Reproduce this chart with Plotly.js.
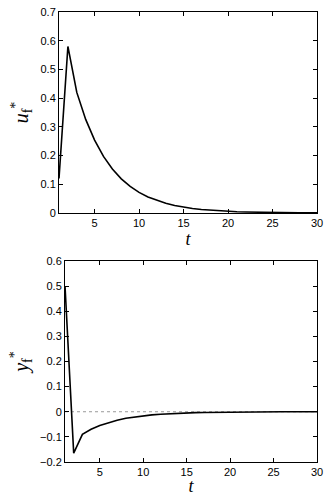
<!DOCTYPE html>
<html>
<head>
<meta charset="utf-8">
<script src="https://cdn.plot.ly/plotly-3.0.1.min.js"></script>
<style>html,body{margin:0;padding:0;background:#fff;}#chart{width:330px;height:496px;}</style>
</head>
<body>
<div id="chart"></div>
<script>
var t = [1,2,3,4,5,6,7,8,9,10,11,12,13,14,15,16,17,18,19,20,21,22,23,24,25,26,27,28,29,30];
var uf = [0.12,0.58,0.42,0.326,0.254,0.197,0.153,0.119,0.093,0.072,0.056,0.044,0.034,0.026,0.020,0.016,0.012,0.0096,0.0075,0.0058,0.0045,0.0035,0.0027,0.0021,0.0016,0.0013,0.001,0.0008,0.0006,0.0005];
var yf = [0.5,-0.165,-0.09,-0.070,-0.055,-0.043,-0.034,-0.026,-0.021,-0.016,-0.0125,-0.0098,-0.0076,-0.006,-0.0046,-0.0036,-0.0028,-0.0022,-0.0017,-0.0013,-0.001,-0.0008,-0.0006,-0.0005,-0.0004,-0.0003,-0.0002,-0.0002,-0.0001,-0.0001];
var xTicks = [5,10,15,20,25,30];
var uTicks = [0,0.1,0.2,0.3,0.4,0.5,0.6,0.7];
var uLabels = ['0','0.1','0.2','0.3','0.4','0.5','0.6','0.7'];
var yTicks = [-0.2,-0.1,0,0.1,0.2,0.3,0.4,0.5,0.6];
var yLabels = ['\u22120.2','\u22120.1','0','0.1','0.2','0.3','0.4','0.5','0.6'];

var tickFont = {family:'Liberation Sans, Arial, sans-serif', size:11, color:'#000'};
var xTitleFont = {family:'Liberation Serif, Times New Roman, serif', size:18, color:'#000'};
var yTitleFont = {family:'Liberation Serif, Times New Roman, serif', size:20, color:'#000'};
function ax(extra){
  var a = {showline:true, linecolor:'#000', linewidth:1, mirror:'ticks', ticks:'inside', ticklen:4, tickcolor:'#000', tickwidth:1,
    showgrid:false, zeroline:false, tickfont:tickFont, fixedrange:true};
  for (var k in extra) a[k]=extra[k];
  return a;
}
var data = [
  {x:t, y:uf, type:'scatter', mode:'lines', line:{color:'#000', width:1.6}, xaxis:'x', yaxis:'y', hoverinfo:'none'},
  {x:t, y:yf, type:'scatter', mode:'lines', line:{color:'#000', width:1.6}, xaxis:'x2', yaxis:'y2', hoverinfo:'none'}
];
var layout = {
  width:330, height:496, showlegend:false,
  paper_bgcolor:'#fff', plot_bgcolor:'#fff',
  margin:{l:59, r:13, t:12, b:34},
  xaxis: ax({domain:[0,1], range:[1,30], tickvals:xTicks, anchor:'y',
    title:{text:'<i>t</i>', font:xTitleFont, standoff:0}}),
  yaxis: ax({domain:[0.5533,1], range:[0,0.7], tickvals:uTicks, ticktext:uLabels, anchor:'x',
    title:{text:'<i>u</i><sub>f</sub><sup>*</sup>', font:yTitleFont, standoff:6}}),
  xaxis2: ax({domain:[0.0233,1], range:[1,30], tickvals:xTicks, anchor:'y2',
    title:{text:'<i>t</i>', font:xTitleFont, standoff:0}}),
  yaxis2: ax({domain:[0,0.4467], range:[-0.2,0.6], tickvals:yTicks, ticktext:yLabels, anchor:'x2',
    title:{text:'<i>y</i><sub>f</sub><sup>*</sup>', font:yTitleFont, standoff:6}}),
  shapes:[{type:'line', xref:'x2 domain', yref:'y2', x0:0, x1:1, y0:0, y1:0, line:{color:'#999', width:1, dash:'dot'}, layer:'below'}]
};
Plotly.newPlot('chart', data, layout, {displayModeBar:false, staticPlot:true});
</script>
</body>
</html>
